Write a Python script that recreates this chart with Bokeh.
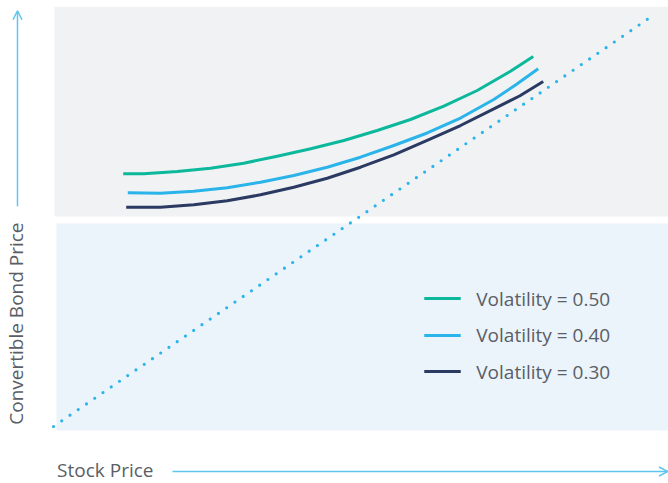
import math
from bokeh.plotting import figure
from bokeh.models import Range1d, Arrow, OpenHead
from bokeh.core.properties import value
from bokeh.embed import file_html
from bokeh.resources import INLINE

# ---- data (stock price vs convertible bond price, arbitrary units) ----
stock_050 = [11.66, 15.10, 20.69, 26.25, 31.82, 37.41, 43.01, 48.55, 54.13,
             59.70, 65.27, 70.85, 76.42, 80.22]
bond_050 = [61.63, 61.63, 62.20, 63.00, 64.22, 65.93, 67.73, 69.76, 72.20,
            74.88, 78.12, 81.95, 86.66, 90.24]

stock_040 = [12.42, 17.89, 23.46, 29.05, 34.62, 40.18, 45.77, 51.34, 56.91,
             62.49, 68.06, 73.63, 77.26, 81.05]
bond_040 = [57.00, 56.90, 57.39, 58.22, 59.59, 61.22, 63.24, 65.68, 68.54,
            71.59, 75.24, 79.76, 83.29, 87.24]

stock_030 = [12.16, 17.89, 23.46, 29.05, 34.62, 40.18, 45.77, 51.34, 56.91,
             62.49, 68.06, 73.63, 77.93, 81.89]
bond_030 = [53.49, 53.49, 54.07, 55.05, 56.51, 58.37, 60.56, 63.24, 66.27,
            69.76, 73.41, 77.49, 80.61, 84.15]

parity_stock = [0, 100]
parity_bond = [0, 100]

series_labels = ["Volatility = 0.50", "Volatility = 0.40", "Volatility = 0.30"]
series_colors = ["#0bb89b", "#2ab4e9", "#2b3a63"]

x_label = "Stock Price"
y_label = "Convertible Bond Price"

FONT = "Open Sans"
TEXT_COLOR = "#5a5e65"
ARROW_COLOR = "#5cc6f0"

p = figure(width=668, height=483, output_backend="svg", toolbar_location=None,
           x_range=Range1d(-8.86, 102.84), y_range=Range1d(-13.9, 103.9),
           min_border=0, min_border_left=0, min_border_right=0,
           min_border_top=0, min_border_bottom=0)
p.axis.visible = False
p.grid.visible = False
p.outline_line_color = None
p.background_fill_color = "white"
p.border_fill_color = "white"

# background bands
p.quad(left=0.17, right=103.0, top=102.4, bottom=51.2,
       fill_color="#f1f2f4", line_color=None)
p.quad(left=0.5, right=103.0, top=49.5, bottom=-1.0,
       fill_color="#ebf3fb", line_color=None)

# parity (dotted) line
p.line(parity_stock, parity_bond, line_color="#2ab4e9", line_width=3.2,
       line_dash="0 10", line_cap="round")

# curves
for xs, ys, c in [(stock_050, bond_050, series_colors[0]),
                  (stock_040, bond_040, series_colors[1]),
                  (stock_030, bond_030, series_colors[2])]:
    p.line(xs, ys, line_color=c, line_width=3, line_cap="butt", line_join="round")

# legend (manual)
leg_y = [31.2, 22.2, 13.4]
for yy, c in zip(leg_y, series_colors):
    p.segment(x0=62.0, y0=yy, x1=68.1, y1=yy, line_color=c, line_width=3)
p.text(x=[70.7] * 3, y=leg_y, text=series_labels, text_font=value(FONT),
       text_font_size="19px", text_color=TEXT_COLOR,
       text_baseline="middle", text_align="left")

# axis arrows
p.add_layout(Arrow(end=OpenHead(size=9, line_color=ARROW_COLOR, line_width=1.5),
                   x_start=19.9, y_start=-10.98, x_end=102.75, y_end=-10.98,
                   line_color=ARROW_COLOR, line_width=1.5))
p.add_layout(Arrow(end=OpenHead(size=9, line_color=ARROW_COLOR, line_width=1.5),
                   x_start=-6.02, y_start=53.7, x_end=-6.02, y_end=101.4,
                   line_color=ARROW_COLOR, line_width=1.5))

# axis labels
p.text(x=[0.6], y=[-10.7], text=[x_label], text_font=value(FONT),
       text_font_size="19px", text_color=TEXT_COLOR,
       text_baseline="middle", text_align="left")
p.text(x=[-6.35], y=[25.1], text=[y_label], text_font=value(FONT),
       text_font_size="19px", text_color=TEXT_COLOR, angle=math.pi / 2,
       text_baseline="middle", text_align="center")

open("out.html", "w").write(file_html(p, INLINE))
